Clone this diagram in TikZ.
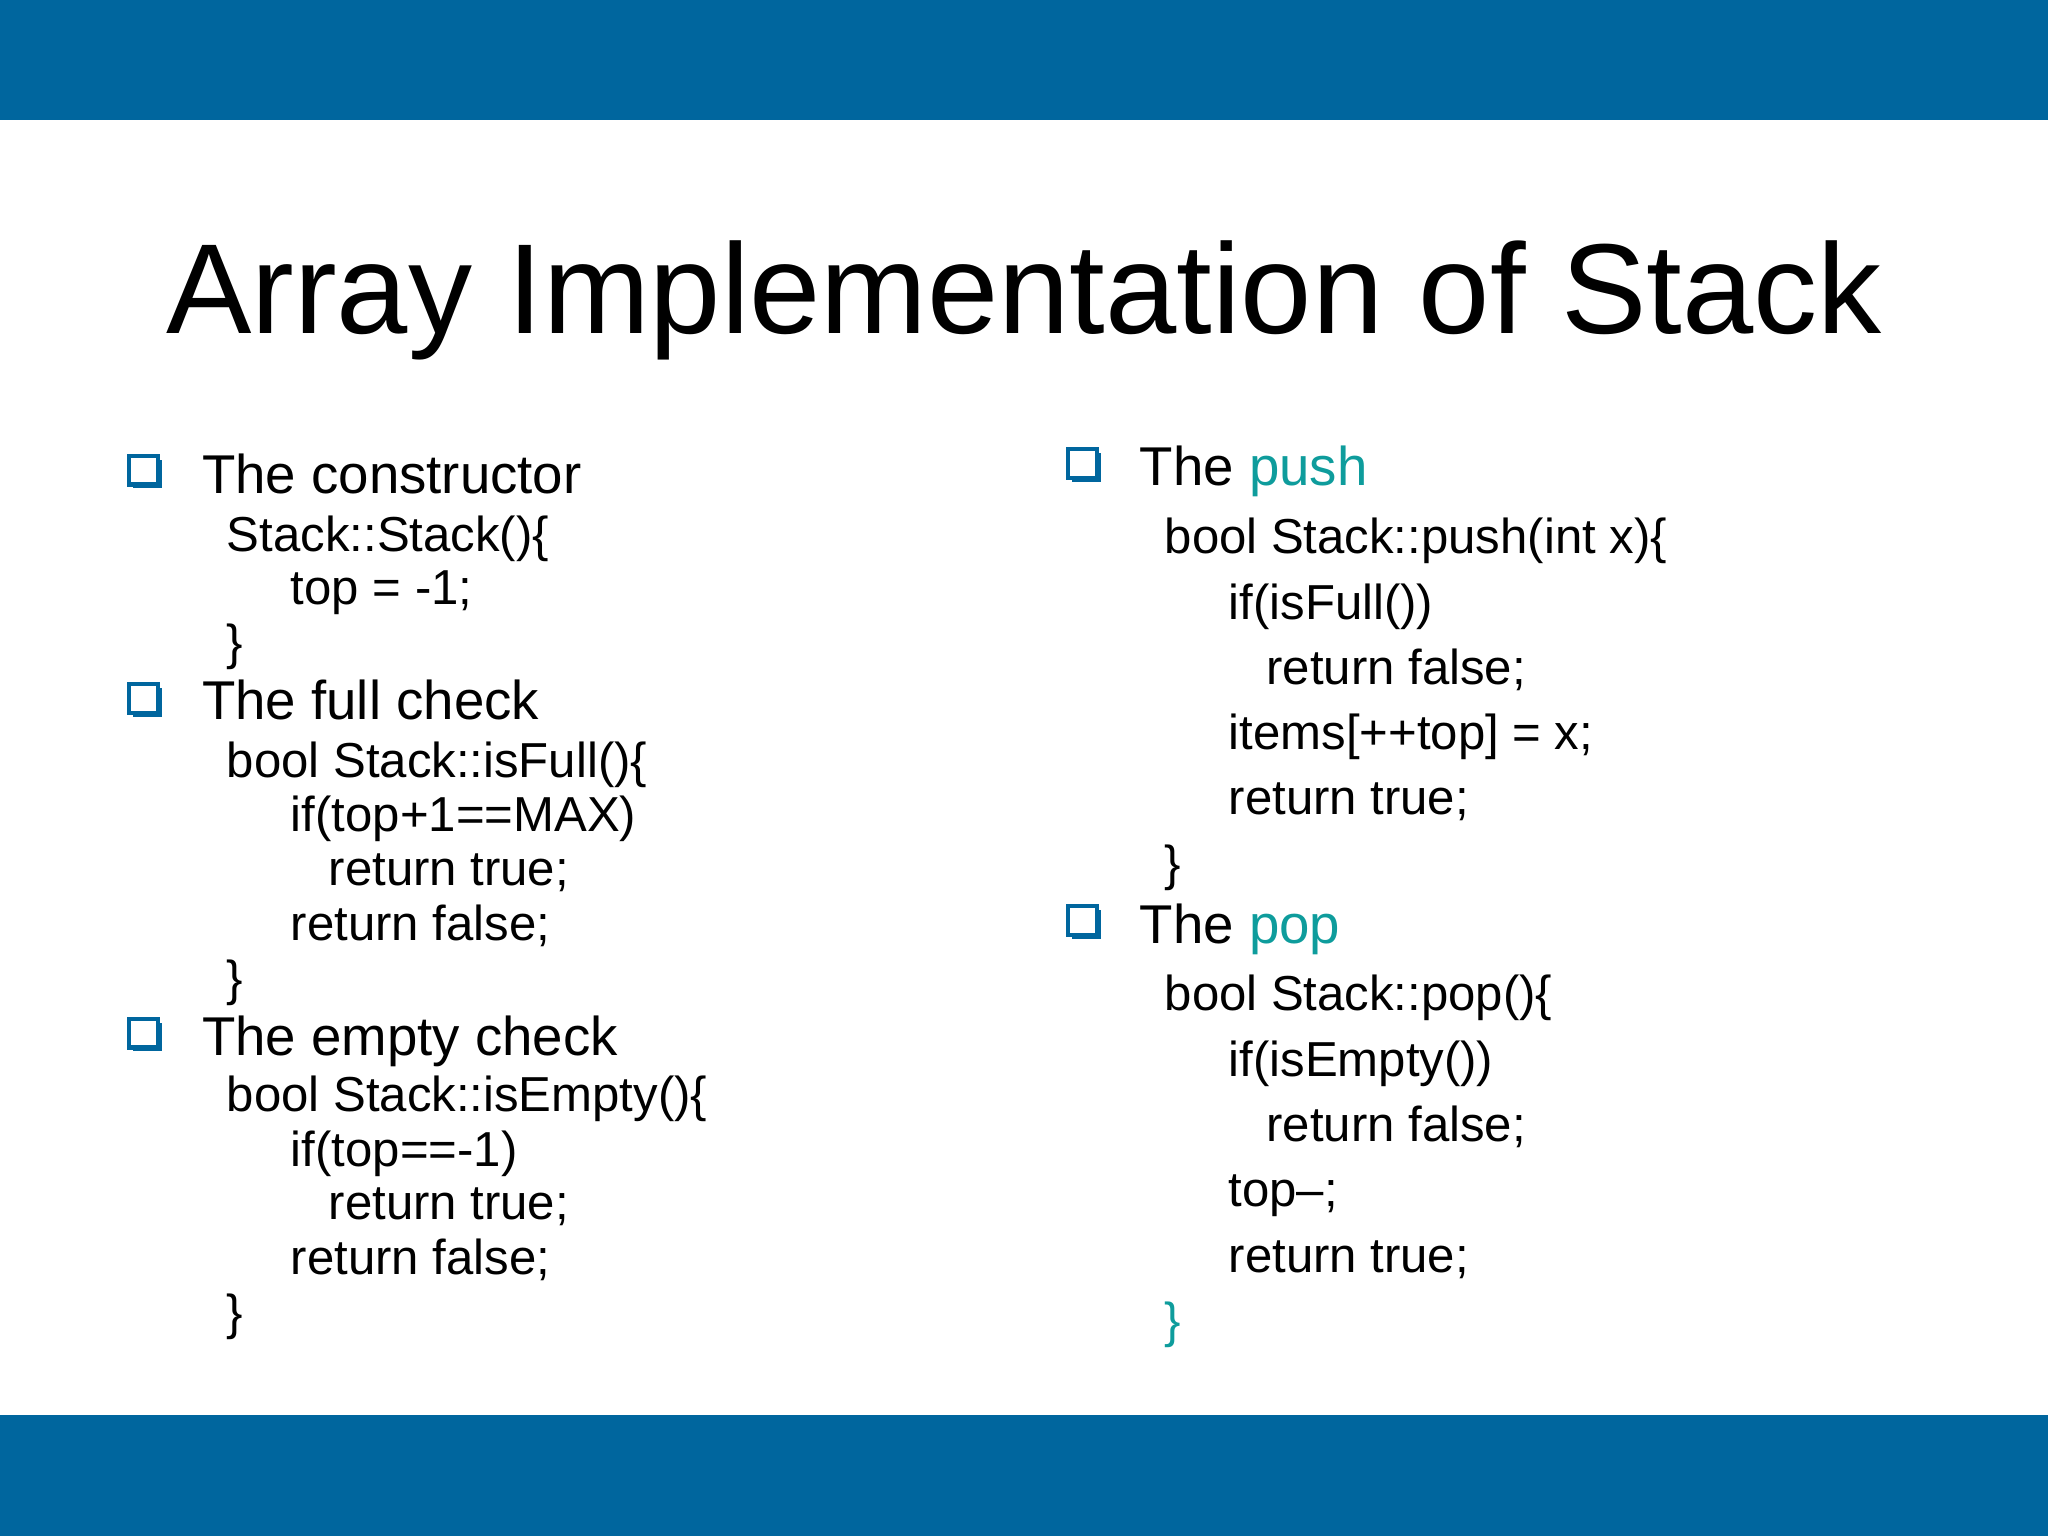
\documentclass[tikz,border=0pt]{standalone}
\usepackage{fontspec}
\setmainfont{Liberation Sans}
\definecolor{barblue}{HTML}{00669E}
\definecolor{teal1}{HTML}{0E9C9C}
\tikzset{
  bul/.style={anchor=base west,inner sep=0pt,font=\fontsize{11.9pt}{13pt}\selectfont},
  cod/.style={anchor=base west,inner sep=0pt,font=\fontsize{10.7pt}{12pt}\selectfont},
}
\newcommand{\sqbul}[2]{%
  \fill[barblue] (#1+0.03-0.11,#2-0.03-0.11) rectangle (#1+0.03+0.11,#2-0.03+0.11);
  \filldraw[fill=white,draw=barblue,line width=0.9pt] (#1-0.11,#2-0.11) rectangle (#1+0.11,#2+0.11);}
\begin{document}
\begin{tikzpicture}[x=1cm,y=1cm]
\useasboundingbox (0,0) rectangle (15.68,11.76);
\fill[barblue] (0,10.84) rectangle (15.68,11.76);
\fill[barblue] (0,0) rectangle (15.68,0.93);
\node[anchor=base,inner sep=0pt,font=\fontsize{27.9pt}{30pt}\selectfont] (title) at (7.84,9.21) {Array Implementation of Stack};
% left column
\sqbul{1.10}{8.16}
\node[bul] (c1) at (1.54,7.98) {The constructor};
\node[cod] (c2) at (1.73,7.54) {Stack::Stack()\{};
\node[cod] (c3) at (2.22,7.13) {top = -1;};
\node[cod] (c4) at (1.73,6.71) {\}};
\sqbul{1.10}{6.41}
\node[bul] (f1) at (1.54,6.25) {The full check};
\node[cod] (f2) at (1.73,5.81) {bool Stack::isFull()\{};
\node[cod] (f3) at (2.22,5.39) {if(top+1==MAX)};
\node[cod] (f4) at (2.51,4.98) {return true;};
\node[cod] (f5) at (2.22,4.56) {return false;};
\node[cod] (f6) at (1.73,4.14) {\}};
\sqbul{1.10}{3.85}
\node[bul] (e1) at (1.54,3.68) {The empty check};
\node[cod] (e2) at (1.73,3.25) {bool Stack::isEmpty()\{};
\node[cod] (e3) at (2.22,2.83) {if(top==-1)};
\node[cod] (e4) at (2.51,2.42) {return true;};
\node[cod] (e5) at (2.22,2.00) {return false;};
\node[cod] (e6) at (1.73,1.58) {\}};
% right column
\sqbul{8.29}{8.21}
\node[bul] (p1) at (8.72,8.04) {The \textcolor{teal1}{push}};
\node[cod] (p2) at (8.91,7.52) {bool Stack::push(int x)\{};
\node[cod] (p3) at (9.40,7.02) {if(isFull())};
\node[cod] (p4) at (9.69,6.52) {return false;};
\node[cod] (p5) at (9.40,6.02) {items[++top] = x;};
\node[cod] (p6) at (9.40,5.52) {return true;};
\node[cod] (p7) at (8.91,5.02) {\}};
\sqbul{8.29}{4.71}
\node[bul] (q1) at (8.72,4.54) {The \textcolor{teal1}{pop}};
\node[cod] (q2) at (8.91,4.02) {bool Stack::pop()\{};
\node[cod] (q3) at (9.40,3.52) {if(isEmpty())};
\node[cod] (q4) at (9.69,3.02) {return false;};
\node[cod] (q5) at (9.40,2.52) {top--;};
\node[cod] (q6) at (9.40,2.02) {return true;};
\node[cod,text=teal1] (q7) at (8.91,1.52) {\}};
\end{tikzpicture}
\end{document}
